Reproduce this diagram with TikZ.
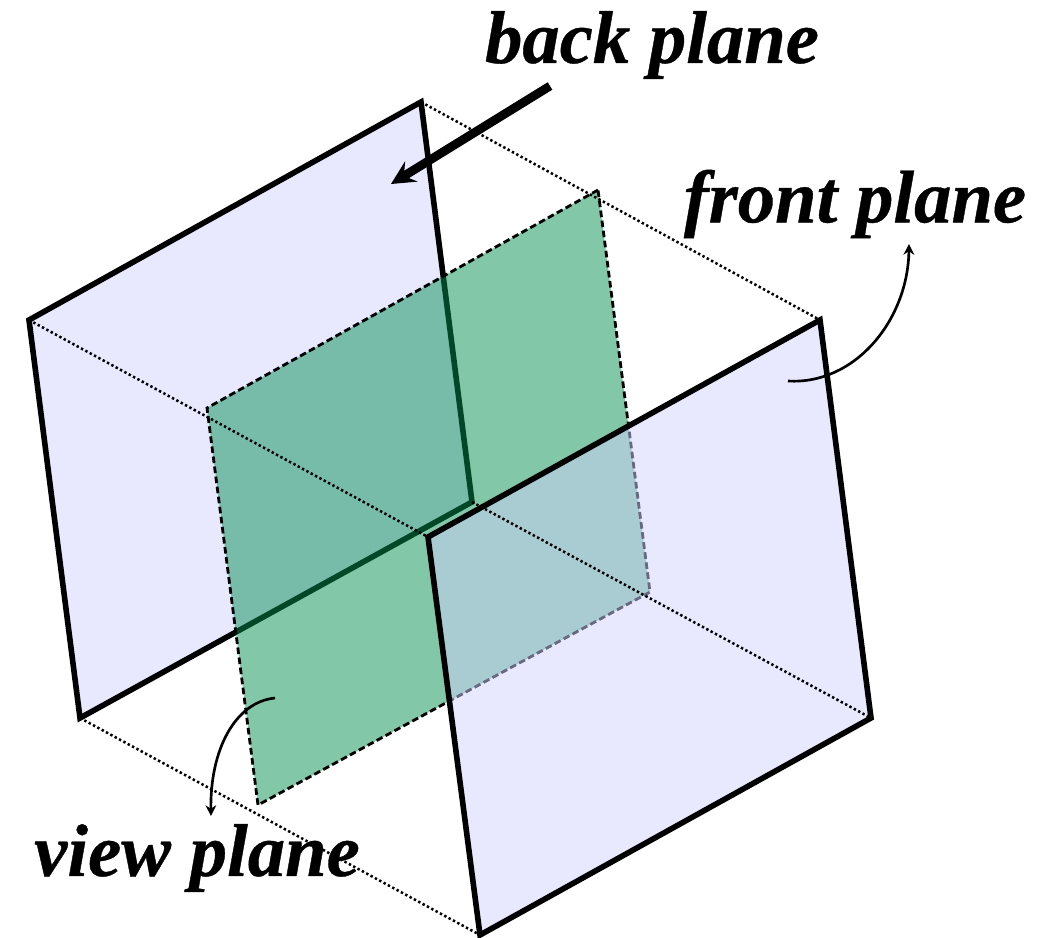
\documentclass[tikz,border=0pt]{standalone}
\usetikzlibrary{arrows.meta}
\usepackage{fontspec}
\setmainfont{Liberation Serif}[BoldItalicFeatures={FakeBold=0.5}]
\usepackage{xcolor}
\definecolor{plane-blue}{RGB}{209,209,255}
\definecolor{plane-green}{RGB}{5,145,81}

\begin{document}
\begin{tikzpicture}[x=0.75pt, y=-0.75pt,
        every node/.style={font=\fontsize{56}{60}\selectfont\bfseries\itshape},
        outerplane/.style={draw=black, line width=4.2pt, line join=miter,
            fill=plane-blue, fill opacity=0.5, draw opacity=1},
        viewplane/.style={draw=black, line width=2.1pt, dash pattern=on 5pt off 2.6pt,
            fill=plane-green, fill opacity=0.5, draw opacity=1},
        depthline/.style={black, line width=1.9pt, dash pattern=on 1.8pt off 1.9pt},
        thinarrow/.style={-{Stealth[length=8pt, width=8pt, inset=2.5pt]}, line width=2pt}]
      \useasboundingbox (0,0) rectangle (1039,938);
      % corners of the three planes
      \coordinate (B1) at (421,102);
      \coordinate (B2) at (29,320);
      \coordinate (B3) at (80,718);
      \coordinate (B4) at (472,502);
      \coordinate (V1) at (598,190);
      \coordinate (V2) at (207,408);
      \coordinate (V3) at (258,805);
      \coordinate (V4) at (650,592);
      \coordinate (F1) at (820,320);
      \coordinate (F2) at (428,537);
      \coordinate (F3) at (480,935);
      \coordinate (F4) at (871,718);
      \path[outerplane] (B1) -- (B2) -- (B3) -- (B4) -- cycle;
      \path[viewplane] (V1) -- (V2) -- (V3) -- (V4) -- cycle;
      \path[outerplane] (F1) -- (F2) -- (F3) -- (F4) -- cycle;
      \foreach \n in {1,2,3,4}
        \draw[depthline] (B\n) -- (F\n);
      % labels
      \node (BACK) at (652,45) {back plane};
      \node (FRONT) at (855,204) {front plane};
      \node (VIEW) at (197,858) {view plane};
      \coordinate (BACKtip) at (391,184);
      \coordinate (BACKtail) at (550,86);
      \coordinate (FRONTtail) at (788,381);
      \coordinate (FRONTtip) at (909,244);
      \coordinate (VIEWtail) at (275,698);
      \coordinate (VIEWtip) at (211,816);
      \draw[-stealth, line width=6.6pt] (BACKtail) -- (BACKtip);
      \draw[thinarrow] (FRONTtail)
        .. controls (855,385) and (908,320) .. (FRONTtip);
      \draw[thinarrow] (VIEWtail)
        .. controls (235,702) and (210,750) .. (VIEWtip);
    \end{tikzpicture}
\end{document}
